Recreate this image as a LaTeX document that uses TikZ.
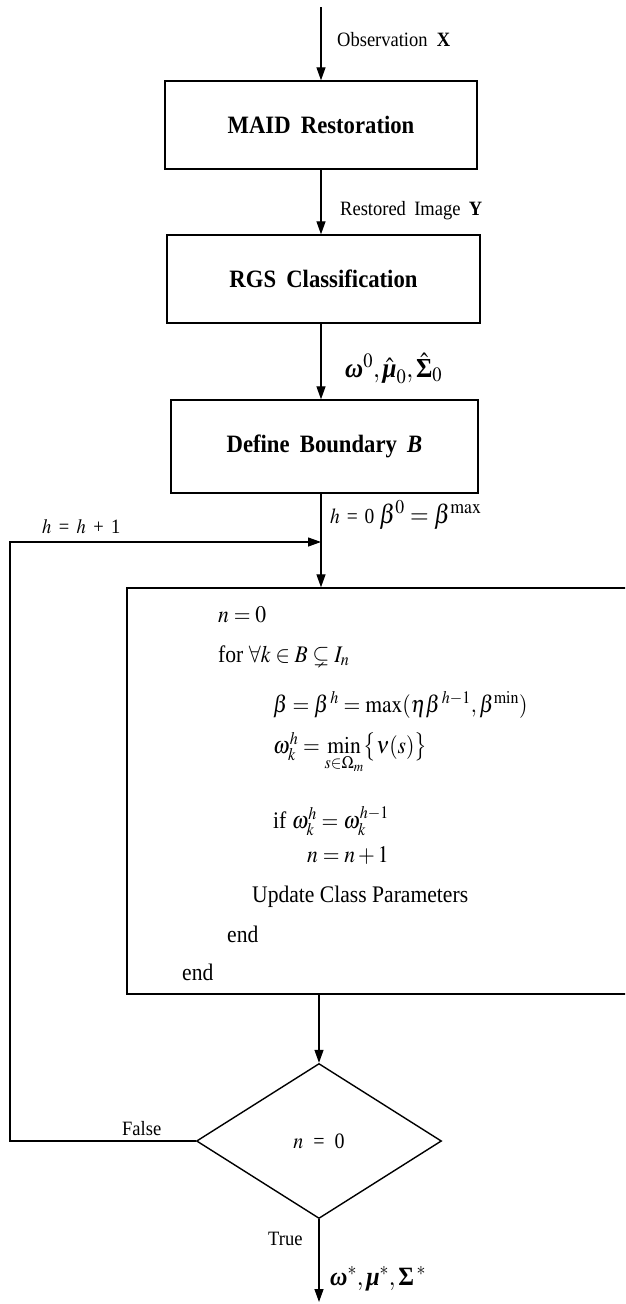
\documentclass[tikz,border=0pt]{standalone}
\usepackage{amsmath,amssymb}
\usepackage{mathptmx}
\usepackage{fontspec}
\setmainfont{Liberation Serif}
\usetikzlibrary{arrows.meta,shapes.geometric}
\newcommand\vst[1]{\scalebox{1}[1.1]{#1}}
\newcommand\bgi[1]{\text{\bfseries\itshape #1}}
\newcommand\bgu[1]{\text{\bfseries #1}}
\begin{document}
\begin{tikzpicture}[x=1pt,y=-1pt]
\tikzset{
  box/.style={draw, line width=1.4pt, inner sep=0pt},
  arr/.style={line width=1.3pt, -{Triangle[length=13pt,width=9pt]}},
  ln/.style={line width=1.3pt},
  lbl/.style={anchor=base west, inner sep=0pt},
  ttl/.style={font=\fontsize{22.7}{26}\selectfont\bfseries},
  small/.style={font=\fontsize{18.5}{22}\selectfont},
  mathlbl/.style={font=\fontsize{24}{28}\selectfont},
  code/.style={anchor=base west, inner sep=0pt, font=\fontsize{21.6}{26}\selectfont},
}
\useasboundingbox (0,0) rectangle (625,1304);
\clip (0,0) rectangle (625,1304);
% boxes
\node[box, ttl, minimum width=312, minimum height=88] (maid) at (321,125) {\vst{MAID\hspace{0.45em}Restoration}};
\node[box, ttl, minimum width=313, minimum height=88] (rgs) at (323.5,279) {\vst{RGS\hspace{0.45em}Classification}};
\node[box, ttl, minimum width=307, minimum height=93] (def) at (324.5,446.5) {\vst{Define\hspace{0.45em}Boundary\hspace{0.45em}\textit{B}}};
\node[box, minimum width=501, minimum height=406] (big) at (377.5,791) {};
\node[draw, diamond, line width=1.4pt, inner sep=0pt, minimum width=245, minimum height=155, font=\fontsize{20}{24}\selectfont] (dia) at (319,1141) {\vst{$n$\hspace{0.5em}=\hspace{0.5em}0}};
% coordinates
\coordinate (top) at (321,7);
\coordinate (j) at (321,542);
\coordinate (lp) at (10,542);
\coordinate (out) at (319,1302);
% connectors
\draw[arr] (top) -- (maid.north);
\draw[arr] (maid.south) -- (maid.south |- rgs.north);
\draw[arr] (rgs.south -| j) -- (j |- def.north);
\draw[ln] (def.south -| j) -- (j);
\draw[arr] (j) -- (j |- big.north);
\draw[arr] (big.south -| dia.north) -- (dia.north);
\draw[arr] (dia.west) -| (lp) -- (j);
\draw[arr] (dia.south) -- (out);
% labels
\node[lbl, small] (obs) at (337,46) {\vst{Observation\hspace{0.5em}\textbf{X}}};
\node[lbl, small] (rest) at (340,215) {\vst{Restored\hspace{0.45em}Image\hspace{0.45em}\textbf{Y}}};
\node[lbl, font=\fontsize{25}{29}\selectfont] (init) at (345,377) {\vst{$\bgi{ω}^0,\hat{\bgi{μ}}_0,\hat{\bgu{Σ}}_0$}};
\node[lbl] (hz) at (330,523) {\vst{{\fontsize{19.5}{23}\selectfont $h$\hspace{0.35em}=\hspace{0.35em}0}\hspace{0.5em}{\fontsize{24}{28}\selectfont$\beta^0=\beta^{\max}$}}};
\node[lbl, small] (hinc) at (42,533) {\vst{$h$\hspace{0.4em}=\hspace{0.4em}$h$\hspace{0.4em}+\hspace{0.4em}1}};
\node[lbl, small] (fls) at (122,1135) {\vst{False}};
\node[lbl, small] (tru) at (268,1245) {\vst{True}};
\node[lbl, mathlbl] (res) at (330,1285) {\vst{$\bgi{ω}^*,\bgi{μ}^*,\bgu{Σ}\,^*$}};
% algorithm lines
\node[code] (l1) at (218,622) {\vst{$n=0$}};
\node[code] (l2) at (218,662) {\vst{for $\forall k\in B\subsetneq I_n$}};
\node[code] (l3) at (273,712) {\vst{$\beta=\beta^{\,h}=\max(\eta\beta^{\,h-1},\beta^{\min})$}};
\node[code] (l4) at (273,753) {\vst{$\omega_k^h=\min\limits_{s\in\Omega_m}\bigl\{\nu(s)\bigr\}$}};
\node[code] (l5) at (273,828) {\vst{if $\omega_k^h=\omega_k^{h-1}$}};
\node[code] (l6) at (307,862) {\vst{$n=n+1$}};
\node[code] (l7) at (252,902) {\vst{Update Class Parameters}};
\node[code] (l8) at (227,942) {\vst{end}};
\node[code] (l9) at (182,980) {\vst{end}};
\end{tikzpicture}
\end{document}
